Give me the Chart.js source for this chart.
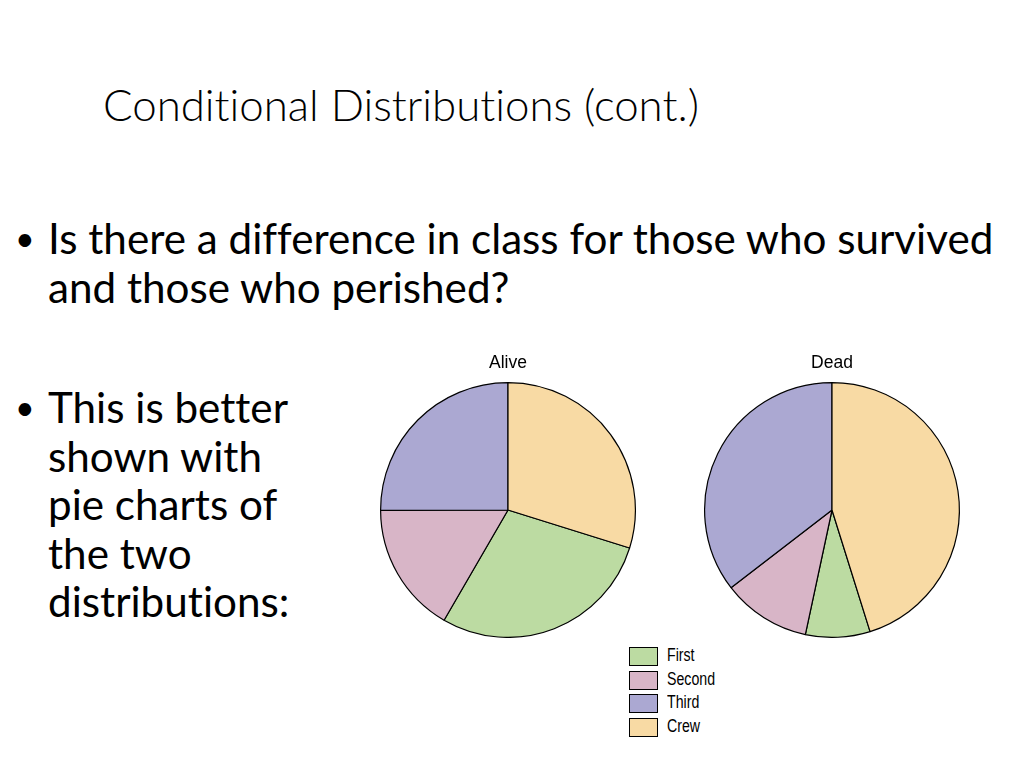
<!DOCTYPE html>
<html>
<head>
<meta charset="utf-8">
<script src="https://cdn.jsdelivr.net/npm/chart.js@4.4.0/dist/chart.umd.min.js"></script>
<style>
  html, body { margin: 0; padding: 0; background: #fff; }
  body { width: 1024px; height: 768px; position: relative; overflow: hidden; font-family: Lato, "Open Sans", sans-serif; color: #000; font-variant-ligatures: none; }
  .title { position: absolute; left: 103px; top: 78px; font-size: 43.8px; font-weight: 300; white-space: nowrap; }
  .bullet { position: absolute; font-size: 42.2px; line-height: 48.5px; white-space: nowrap; }
  .bullet .dot { position: absolute; left: -33px; top: 0; font-size: 34px; }
  .pie { position: absolute; }
  #legend { position: absolute; left: 629px; top: 647px; font-family: "Liberation Sans", Arial, sans-serif; font-size: 17.5px; }
  .row { position: relative; height: 23.5px; }
  .box { position: absolute; left: 0; top: 0; width: 27px; height: 17px; border: 1px solid #000; }
  .lab { position: absolute; left: 38px; top: -1px; line-height: 19px; transform: scaleX(0.81); transform-origin: left center; }
</style>
</head>
<body>
<div class="title">Conditional Distributions (cont.)</div>
<div class="bullet" style="left:48px; top:214px;"><span class="dot">•</span>Is there a difference in class for those who survived<br>and those who perished?</div>
<div class="bullet" style="left:48px; top:383px;"><span class="dot">•</span>This is better<br>shown with<br>pie charts of<br>the two<br>distributions:</div>

<canvas class="pie" id="alive" style="left:378px; top:348px;"></canvas>
<canvas class="pie" id="dead" style="left:702px; top:348px;"></canvas>
<div id="legend"></div>

<script>
// Titanic passengers by class, split by survival
const classes = ["First", "Second", "Third", "Crew"];
const alive = [203, 118, 178, 212];
const dead = [122, 167, 528, 673];
const colors = ["#bcdba2", "#d8b5c7", "#aba8d2", "#f8daa4"];

const labelFont = "'Liberation Sans', Arial, sans-serif";

// Pie starts with Crew at 12 o'clock, so First begins after the Crew share
function crewRotation(values) {
  const total = values.reduce((a, b) => a + b, 0);
  return values[3] / total * 360;
}

function makePie(canvas, title, values) {
  canvas.width = 260;
  canvas.height = 290;
  canvas.style.width = "260px";
  canvas.style.height = "290px";
  return new Chart(canvas, {
    type: "pie",
    data: {
      labels: classes,
      datasets: [{
        data: values,
        backgroundColor: colors,
        borderColor: "#000",
        borderWidth: 1.2
      }]
    },
    options: {
      responsive: false,
      animation: false,
      rotation: crewRotation(values),
      layout: { padding: 0 },
      plugins: {
        legend: { display: false },
        tooltip: { enabled: false },
        title: {
          display: true,
          text: title,
          color: "#000",
          font: { family: labelFont, size: 17.5, weight: "normal" },
          padding: { top: 5, bottom: 8 }
        }
      }
    }
  });
}

makePie(document.getElementById("alive"), "Alive", alive);
makePie(document.getElementById("dead"), "Dead", dead);

// Legend
const legend = document.getElementById("legend");
classes.forEach((c, i) => {
  const row = document.createElement("div");
  row.className = "row";
  row.innerHTML = `<div class="box" style="background:${colors[i]}"></div><div class="lab">${c}</div>`;
  legend.appendChild(row);
});
</script>
</body>
</html>
